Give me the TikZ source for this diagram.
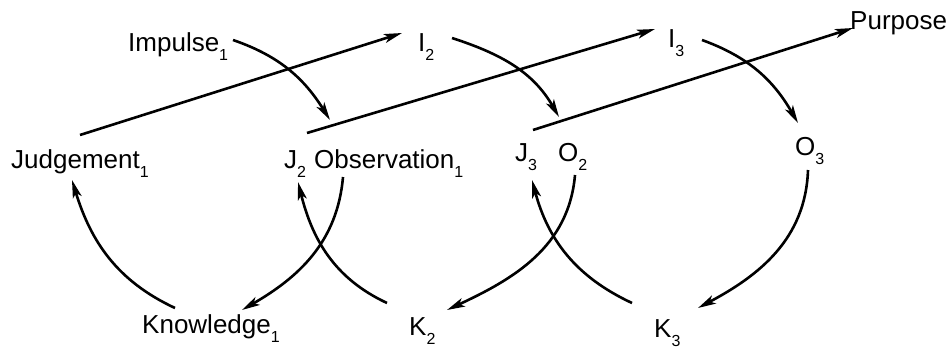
\documentclass[tikz,border=0pt]{standalone}
\usepackage{fontspec}
\setmainfont{Liberation Sans}
\usetikzlibrary{arrows.meta}
\newcommand\sbs[1]{\raisebox{-9pt}{\fontsize{16}{16}\selectfont #1}}
\tikzset{
  lbl/.style={anchor=base west, inner sep=0pt, font=\fontsize{26}{28}\selectfont},
  conn/.style={line width=2.6pt, -{Stealth[length=18pt,width=9pt,inset=4.5pt]}},
}
\begin{document}
\begin{tikzpicture}[x=1pt,y=1pt]
\useasboundingbox (0,0) rectangle (952,-350);
% labels
\node[lbl] (imp) at (128,-52) {Impulse\sbs1};
\node[lbl] (i2) at (418,-52) {I\sbs2};
\node[lbl] (i3) at (668,-48) {I\sbs3};
\node[lbl] (purp) at (850,-30) {Purpose};
\node[lbl] (judg) at (11,-168) {Judgement\sbs1};
\node[lbl] (j2) at (284,-168) {J\sbs2};
\node[lbl] (obs) at (314,-168) {Observation\sbs1};
\node[lbl] (j3) at (515,-161) {J\sbs3};
\node[lbl] (o2) at (558,-161) {O\sbs2};
\node[lbl] (o3) at (795,-155) {O\sbs3};
\node[lbl] (know) at (142,-333) {Knowledge\sbs1};
\node[lbl] (k2) at (409,-335) {K\sbs2};
\node[lbl] (k3) at (654,-337) {K\sbs3};
% connector end points
\coordinate (judgA) at (80,-135);   \coordinate (i2A) at (402,-33);
\coordinate (j2A) at (307,-133);    \coordinate (i3A) at (655,-29);
\coordinate (j3A) at (533,-130);    \coordinate (purpA) at (853,-28);
\coordinate (impB) at (233,-40);    \coordinate (j2B) at (330,-120);
\coordinate (i2B) at (452,-38);     \coordinate (j3B) at (559,-117);
\coordinate (i3B) at (702,-40);     \coordinate (o3B) at (798,-123);
\coordinate (obsC) at (343,-177);   \coordinate (knowC) at (242,-310);
\coordinate (k2C) at (387,-303);    \coordinate (j2C) at (298,-182);
\coordinate (knowD) at (175,-308);  \coordinate (judgD) at (72,-180);
\coordinate (o2C) at (575,-175);    \coordinate (k2D) at (447,-310);
\coordinate (k3C) at (632,-303);    \coordinate (j3C) at (532,-180);
\coordinate (o3C) at (808,-170);    \coordinate (k3D) at (698,-308);
% straight connectors
\draw[conn] (judgA) -- (i2A);
\draw[conn] (j2A) -- (i3A);
\draw[conn] (j3A) -- (purpA);
% upper arcs
\draw[conn] (impB) to[out=-19,in=122] (j2B);
\draw[conn] (i2B) to[out=-18,in=120] (j3B);
\draw[conn] (i3B) to[out=-20,in=120] (o3B);
% lower arcs
\draw[conn] (obsC) to[out=-95,in=30] (knowC);
\draw[conn] (k2C) to[out=155,in=-76] (j2C);
\draw[conn] (knowD) to[out=155,in=-73] (judgD);
\draw[conn] (o2C) to[out=-95,in=25] (k2D);
\draw[conn] (k3C) to[out=155,in=-75] (j3C);
\draw[conn] (o3C) to[out=-92,in=28] (k3D);
\end{tikzpicture}
\end{document}
